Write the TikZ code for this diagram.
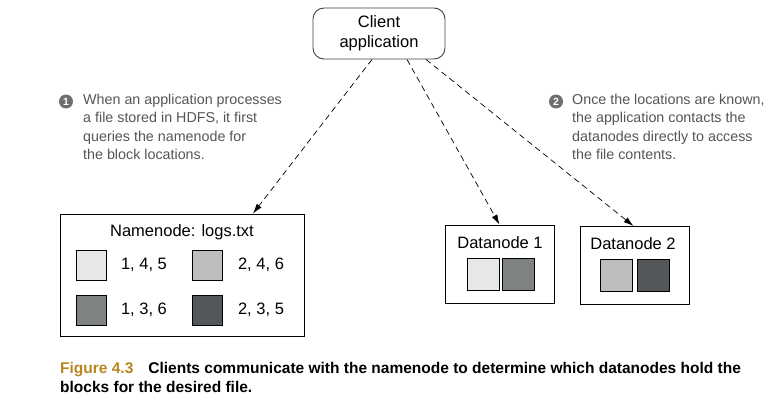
\documentclass[tikz,border=0pt]{standalone}
\usepackage{fontspec}
\setmainfont{Liberation Sans}
\newfontfamily\capfont{Liberation Sans Bold}
\usetikzlibrary{arrows.meta,calc}
\definecolor{blkA}{HTML}{E6E7E6}
\definecolor{blkB}{HTML}{BDBFBE}
\definecolor{blkC}{HTML}{7F8283}
\definecolor{blkD}{HTML}{545759}
\definecolor{notegray}{HTML}{555555}
\definecolor{bulletgray}{HTML}{6E6E6E}
\definecolor{figgold}{HTML}{B8861E}
\tikzset{
  x=1pt,y=-1pt,
  box/.style={draw=black,line width=0.9pt,inner sep=0pt},
  blk/.style={draw=black,line width=0.8pt,minimum size=#1,inner sep=0pt},
  boxtext/.style={font=\fontsize{16.5}{19}\selectfont,text=black,inner sep=0pt},
  note/.style={font=\fontsize{14.3}{18.3}\selectfont,text=notegray,align=left,anchor=north west,inner sep=0pt},
  bullet/.style={circle,fill=bulletgray,text=white,minimum size=14pt,inner sep=0pt,font=\fontsize{10.5}{11}\selectfont\bfseries},
  req/.style={dash pattern=on 6pt off 4pt,line width=0.7pt,-{Latex[length=10pt,width=6pt]}},
}
\begin{document}
\begin{tikzpicture}
\useasboundingbox (0,0) rectangle (783,401);
% client
\node[box,draw=black!75,rounded corners=11pt,minimum width=132,minimum height=51,align=center,font=\fontsize{16.5}{20}\selectfont] (client) at (379,33.5) {Client\\application};
% namenode
\node[box,minimum width=244,minimum height=122] (nn) at (182,275) {};
\node[boxtext] (nntitle) at (182,232) {Namenode: logs.txt};
\node[blk=30pt,fill=blkA] (n1) at (91,265.5) {};
\node[blk=30pt,fill=blkB] (n2) at (207,265.5) {};
\node[blk=30pt,fill=blkC] (n3) at (91,310) {};
\node[blk=30pt,fill=blkD] (n4) at (207,310) {};
\node[boxtext] (l1) at (144,265) {1, 4, 5};
\node[boxtext] (l2) at (261,265) {2, 4, 6};
\node[boxtext] (l3) at (144,310) {1, 3, 6};
\node[boxtext] (l4) at (261,310) {2, 3, 5};
% datanode 1
\node[box,minimum width=109,minimum height=78] (d1) at (499.5,264) {};
\node[boxtext] (d1t) at (500,243) {Datanode 1};
\node[blk=32pt,fill=blkA] (d1a) at (483,274.5) {};
\node[blk=32pt,fill=blkC] (d1b) at (518,274.5) {};
% datanode 2
\node[box,minimum width=109,minimum height=78] (d2) at (634.5,265.5) {};
\node[boxtext] (d2t) at (633,243.5) {Datanode 2};
\node[blk=32pt,fill=blkB] (d2a) at (616,275) {};
\node[blk=32pt,fill=blkD] (d2b) at (653,275) {};
% arrows
\draw[req] ([xshift=-7pt]client.south) -- ([xshift=71pt]nn.north);
\draw[req] ([xshift=28pt]client.south) -- (d1.north);
\draw[req] ([xshift=47pt]client.south) -- ([xshift=-1pt]d2.north);
% notes
\node[bullet] (b1) at (66,101.5) {1};
\node[note] (t1) at (83,94) {When an application processes\\a file stored in HDFS, it first\\queries the namenode for\\the block locations.};
\node[bullet] (b2) at (556,101.5) {2};
\node[note] (t2) at (572,94) {Once the locations are known,\\the application contacts the\\datanodes directly to access\\the file contents.};
% caption
\node[anchor=north west,inner sep=0pt,align=left,font=\capfont\fontsize{15.5}{19.5}\selectfont] (cap) at (60,362)
  {\textcolor{figgold}{Figure 4.3}\hspace{15pt}Clients communicate with the namenode to determine which datanodes hold the\\blocks for the desired file.};
\end{tikzpicture}
\end{document}
